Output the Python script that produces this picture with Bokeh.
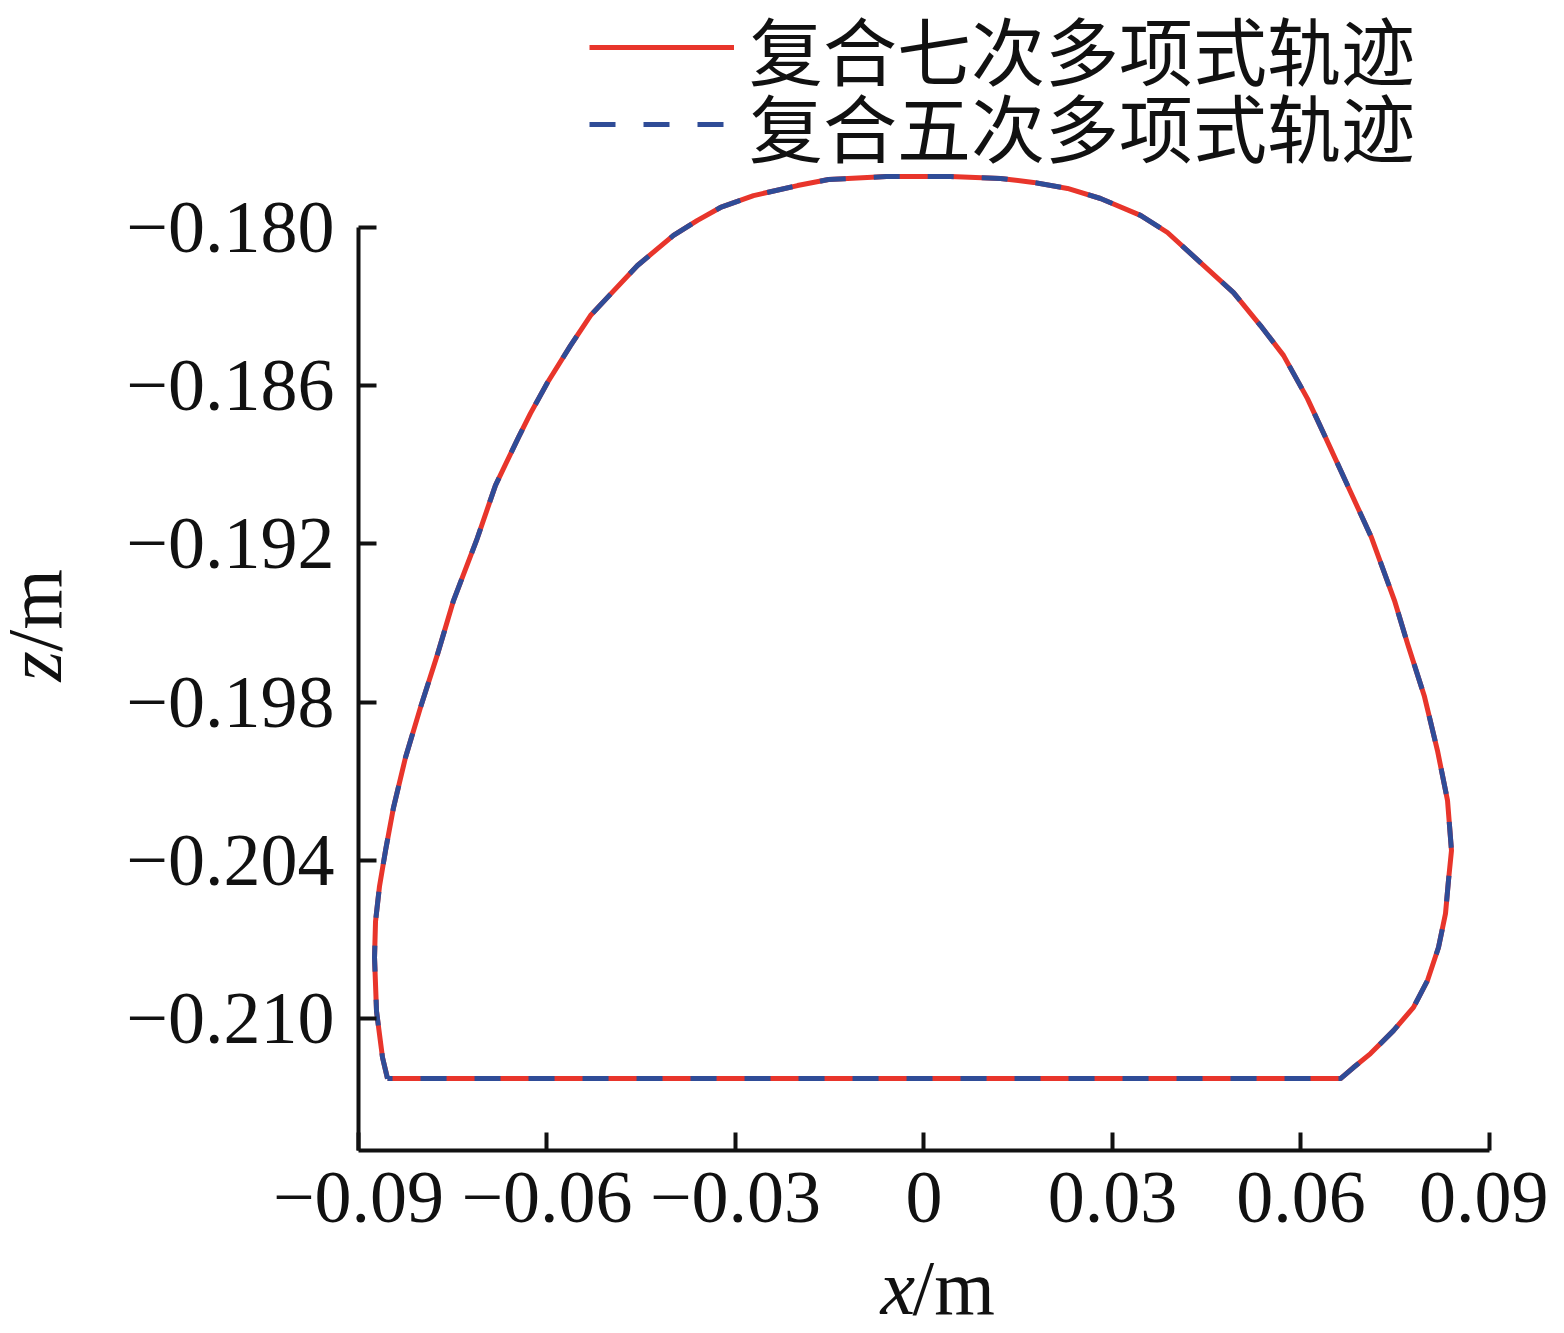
import math
from bokeh.plotting import figure
from bokeh.models import Range1d, FixedTicker, Legend, LegendItem, Label, LinearAxis
from bokeh.embed import file_html
from bokeh.resources import INLINE

# ---- data (metres) ----
# composite 7th-order polynomial foot trajectory (closed loop)
septic_x = [-0.08538, -0.08618, -0.08713, -0.08745, -0.08729, -0.08666, -0.08570,
            -0.08443, -0.08252, -0.08013, -0.07743, -0.07488, -0.07122, -0.06820,
            -0.06454, -0.06263, -0.05992, -0.05626, -0.05308, -0.05037, -0.04560,
            -0.03987, -0.03605, -0.03239, -0.02713, -0.02013, -0.01520, -0.00597,
            0.00422, 0.01218, 0.01743, 0.02284, 0.02809, 0.03446, 0.03875, 0.04401,
            0.04926, 0.05355, 0.05721, 0.06103, 0.06390, 0.06756, 0.07122, 0.07488,
            0.07695, 0.07965, 0.08172, 0.08332, 0.08395, 0.08347, 0.08300, 0.08188,
            0.08013, 0.07790, 0.07472, 0.07106, 0.06835, 0.06629, -0.08538]
septic_z = [-0.21228, -0.21148, -0.20973, -0.20769, -0.20632, -0.20499, -0.20363,
            -0.20200, -0.20010, -0.19820, -0.19619, -0.19415, -0.19187, -0.18978,
            -0.18796, -0.18705, -0.18588, -0.18448, -0.18334, -0.18265, -0.18144,
            -0.18030, -0.17973, -0.17924, -0.17879, -0.17841, -0.17818, -0.17807,
            -0.17807, -0.17814, -0.17829, -0.17852, -0.17890, -0.17954, -0.18019,
            -0.18133, -0.18247, -0.18372, -0.18485, -0.18649, -0.18796, -0.18986,
            -0.19176, -0.19415, -0.19578, -0.19779, -0.19984, -0.20173, -0.20363,
            -0.20477, -0.20602, -0.20731, -0.20856, -0.20958, -0.21046, -0.21133,
            -0.21186, -0.21228, -0.21228]
# composite 5th-order polynomial trajectory (coincides with the 7th-order one)
quintic_x = list(septic_x)
quintic_z = list(septic_z)

series_names = ["复合七次多项式轨迹", "复合五次多项式轨迹"]
x_title = ["x", "/m"]
z_title = ["z", "/m"]

x_ticks = [-0.09, -0.06, -0.03, 0.0, 0.03, 0.06, 0.09]
x_tick_labels = ["\u22120.09", "\u22120.06", "\u22120.03", "0", "0.03", "0.06", "0.09"]
y_ticks = [-0.210, -0.204, -0.198, -0.192, -0.186, -0.180]
y_tick_labels = ["\u22120.210", "\u22120.204", "\u22120.198", "\u22120.192", "\u22120.186", "\u22120.180"]

# ---- styles / layout ----
RED = "#e8352b"
BLUE = "#2f4c97"
INK = "#111111"
SERIF = "Liberation Serif"
CJK = "Noto Sans CJK SC"

W, H = 1548, 1317
X_START, X_END = -0.146976, 0.09939      # canvas spans these x values
Y_START, Y_END = -0.221340, -0.171391    # canvas spans these z values
X_AXIS_AT = -0.21501                      # z where the x axis sits
Y_AXIS_AT = -0.09                         # x where the z axis sits

p = figure(width=W, height=H, output_backend="svg", toolbar_location=None,
           x_range=Range1d(X_START, X_END), y_range=Range1d(Y_START, Y_END),
           x_axis_type=None, y_axis_type=None,
           min_border_left=0, min_border_right=0, min_border_top=0, min_border_bottom=0)
p.outline_line_color = None
p.background_fill_color = "white"
p.border_fill_color = "white"

xaxis = LinearAxis(ticker=FixedTicker(ticks=x_ticks), fixed_location=X_AXIS_AT,
                   bounds=(x_ticks[0], x_ticks[-1]),
                   major_label_overrides=dict(zip(x_ticks, x_tick_labels)))
yaxis = LinearAxis(ticker=FixedTicker(ticks=y_ticks), fixed_location=Y_AXIS_AT,
                   bounds=(X_AXIS_AT, y_ticks[-1]),
                   major_label_overrides=dict(zip(y_ticks, y_tick_labels)))
for ax in (xaxis, yaxis):
    ax.axis_line_width = 4
    ax.axis_line_color = INK
    ax.major_tick_line_width = 4
    ax.major_tick_line_color = INK
    ax.major_tick_in = 18
    ax.major_tick_out = 0
    ax.minor_tick_line_color = None
    ax.major_label_text_font = SERIF
    ax.major_label_text_font_size = "74px"
    ax.major_label_text_color = INK
xaxis.major_label_standoff = 22
yaxis.major_label_standoff = 24
p.add_layout(xaxis, "below")
p.add_layout(yaxis, "left")

r7 = p.line(septic_x, septic_z, line_color=RED, line_width=5, line_join="round")
r5 = p.line(quintic_x, quintic_z, line_color=BLUE, line_width=5, line_dash="26 28")

for name, rend, loc in ((series_names[0], r7, (589, 1215)), (series_names[1], r5, (589, 1138))):
    leg = Legend(items=[LegendItem(label=name, renderers=[rend])], location=loc)
    leg.glyph_width = 145
    leg.glyph_height = 110
    leg.label_height = 110
    leg.label_standoff = 15
    leg.padding = 0
    leg.margin = 0
    leg.spacing = 0
    leg.border_line_color = None
    leg.background_fill_alpha = 0
    leg.label_text_font = CJK
    leg.label_text_font_size = "74px"
    leg.label_text_color = INK
    p.add_layout(leg)

# axis titles: italic variable + upright unit
lab_kw = dict(x_units="screen", y_units="screen", text_font=SERIF, text_font_size="78px",
              text_color=INK, text_baseline="alphabetic", text_align="left")
p.add_layout(Label(x=880, y=30, text=x_title[0], text_font_style="italic", **lab_kw))
p.add_layout(Label(x=912, y=30, text=x_title[1], **lab_kw))
p.add_layout(Label(x=34, y=636, angle=math.pi / 2, text=z_title[0], text_font_style="italic", **lab_kw))
p.add_layout(Label(x=34, y=666, angle=math.pi / 2, text=z_title[1], **lab_kw))

open("out.html", "w").write(file_html(p, INLINE))
